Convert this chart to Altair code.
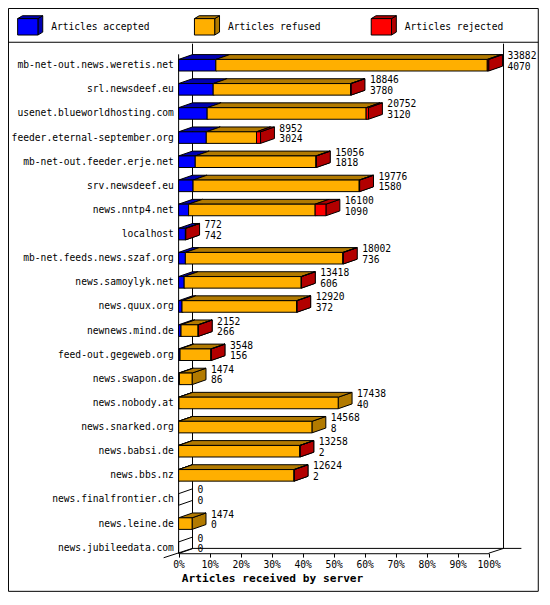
import altair as alt
import pandas as pd

# ---------------- data ----------------
hosts = [
    "mb-net-out.news.weretis.net", "srl.newsdeef.eu", "usenet.blueworldhosting.com",
    "feeder.eternal-september.org", "mb-net-out.feeder.erje.net", "srv.newsdeef.eu",
    "news.nntp4.net", "localhost", "mb-net.feeds.news.szaf.org", "news.samoylyk.net",
    "news.quux.org", "newnews.mind.de", "feed-out.gegeweb.org", "news.swapon.de",
    "news.nobody.at", "news.snarked.org", "news.babsi.de", "news.bbs.nz",
    "news.finalfrontier.ch", "news.leine.de", "news.jubileedata.com",
]
offered = [33882, 18846, 20752, 8952, 15056, 19776, 16100, 772, 18002, 13418,
           12920, 2152, 3548, 1474, 17438, 14568, 13258, 12624, 0, 1474, 0]
accepted = [4070, 3780, 3120, 3024, 1818, 1580, 1090, 742, 736, 606,
            372, 266, 156, 86, 40, 8, 2, 2, 0, 0, 0]
rejected = [150, 50, 260, 440, 50, 40, 1180, 30, 60, 20,
            20, 20, 15, 0, 0, 0, 10, 10, 0, 0, 0]

series = ["Articles accepted", "Articles refused", "Articles rejected"]
front_cols = ["#0000ff", "#ffaf00", "#ff0000"]
dark_cols = ["#0000b2", "#b27a00", "#b20000"]
tick_values = [0, 10, 20, 30, 40, 50, 60, 70, 80, 90, 100]

# ---------------- layout ----------------
S = 0.965
def P(v):
    return round(v * S, 2)

MONO = "DejaVu Sans Mono"
MAXV = max(offered)
HALF = 0.24   # half bar height in row units
DY = 0.2      # depth (vertical) in row units
DX = 4.48     # depth (horizontal) in percent units

XS = alt.Scale(domain=[0, 100], range=[P(176.8), P(498.1)], nice=False, zero=False)
YS = alt.Scale(domain=[0, 20], range=[P(59.3), P(559.3)], nice=False, zero=False)
ID = alt.Scale(domain=[0, 1000], range=[0, 1000], nice=False, zero=False)

fronts, tops = [], []
sides = [[], [], []]
zeros = []
labels = []
for i, h in enumerate(hosts):
    tot = offered[i]
    vals = [accepted[i], tot - accepted[i] - rejected[i], rejected[i]]
    start = 0.0
    for k, v in enumerate(vals):
        if v <= 0:
            continue
        x0 = start / MAXV * 100
        x1 = (start + v) / MAXV * 100
        start += v
        pid = f"{i}-{k}"
        fronts.append(dict(x0=x0, x1=x1, y0=i - HALF, y1=i + HALF, col=front_cols[k]))
        tops.append(dict(pid=pid, yy=i - HALF, xa=x0, xb=x1, col=dark_cols[k]))
        tops.append(dict(pid=pid, yy=i - HALF - DY, xa=x0 + DX, xb=x1 + DX, col=dark_cols[k]))
        sides[k].append(dict(pid=pid, xx=x1, ya=i - HALF, yb=i + HALF, col=dark_cols[k]))
        sides[k].append(dict(pid=pid, xx=x1 + DX, ya=i - HALF - DY, yb=i + HALF - DY, col=dark_cols[k]))
    if tot == 0:
        zeros.append(dict(pid=str(i), xx=0.0, ya=i - HALF, yb=i + HALF))
        zeros.append(dict(pid=str(i), xx=DX, ya=i - HALF - DY, yb=i + HALF - DY))
    labels.append(dict(row=i, host=h, tp=tot / MAXV * 100, t1=str(tot), t2=str(accepted[i])))

fronts_df = pd.DataFrame(fronts)
tops_df = pd.DataFrame(tops)
zeros_df = pd.DataFrame(zeros)
labels_df = pd.DataFrame(labels)

# decoration lines (pixel layout)
lines_df = pd.DataFrame([
    dict(x=P(0), y=P(35.5), x2=P(549.5), y2=P(35.5)),
    dict(x=P(191.2), y=P(37), x2=P(191.2), y2=P(560)),
    dict(x=P(513.5), y=P(37), x2=P(513.5), y2=P(560)),
    dict(x=P(176.8), y=P(48), x2=P(176.8), y2=P(565)),
    dict(x=P(191.2), y=P(560), x2=P(532), y2=P(560)),
    dict(x=P(498.1), y=P(565), x2=P(513.5), y2=P(560)),
    dict(x=P(161.3), y=P(569.7), x2=P(191.2), y2=P(560)),
])
border_df = pd.DataFrame([dict(x=P(0.5), y=P(0.5), x2=P(549.5), y2=P(604.5))])

# legend cubes (pixel layout)
lg_front, lg_top, lg_side, lg_text = [], [], [], []
for k, name in enumerate(series):
    x0 = 10 + 183.2 * k
    x1 = x0 + 21
    lg_front.append(dict(x=P(x0), x2=P(x1), y=P(11), y2=P(28), col=front_cols[k]))
    lg_top.append(dict(pid=k, yy=P(11), xa=P(x0), xb=P(x1), col=dark_cols[k]))
    lg_top.append(dict(pid=k, yy=P(8), xa=P(x0 + 5), xb=P(x1 + 5), col=dark_cols[k]))
    lg_side.append(dict(pid=k, xx=P(x1), ya=P(11), yb=P(28), col=dark_cols[k]))
    lg_side.append(dict(pid=k, xx=P(x1 + 5), ya=P(8), yb=P(25), col=dark_cols[k]))
    lg_text.append(dict(x=P(x0 + 34.7), y=P(20), name=name))

# ---------------- layers ----------------
deco = alt.Chart(lines_df).mark_rule(color="black", strokeWidth=1).encode(
    x=alt.X("x:Q", scale=ID, axis=None), y=alt.Y("y:Q", scale=ID, axis=None),
    x2="x2:Q", y2="y2:Q")

zero_layer = alt.Chart(zeros_df).mark_area(
    orient="vertical", fillOpacity=0, stroke="black", strokeWidth=1).encode(
    x=alt.X("xx:Q", scale=XS, axis=None),
    y=alt.Y("ya:Q", scale=YS, axis=None, stack=False), y2="yb:Q",
    detail="pid:N")

side_layers = []
for k in range(3):
    sdf = pd.DataFrame(sides[k])
    side_layers.append(alt.Chart(sdf).mark_area(
        orient="vertical", stroke="black", strokeWidth=1, opacity=1).encode(
        x=alt.X("xx:Q", scale=XS, axis=None),
        y=alt.Y("ya:Q", scale=YS, axis=None, stack=False), y2="yb:Q",
        detail="pid:N", fill=alt.Fill("col:N", scale=None)))

top_layer = alt.Chart(tops_df).mark_area(
    orient="horizontal", stroke="black", strokeWidth=1, opacity=1).encode(
    y=alt.Y("yy:Q", scale=YS, axis=None),
    x=alt.X("xa:Q", scale=XS, axis=None, stack=False), x2="xb:Q",
    detail="pid:N", fill=alt.Fill("col:N", scale=None))

front_layer = alt.Chart(fronts_df).mark_rect(stroke="black", strokeWidth=1).encode(
    x=alt.X("x0:Q", scale=XS, axis=alt.Axis(
        values=tick_values, labelExpr="datum.value + '%'", grid=False,
        tickSize=P(4), tickColor="black", tickWidth=1,
        domainColor="black", domainWidth=1,
        labelFont=MONO, labelFontSize=P(10), labelColor="black", labelPadding=2,
        labelFlush=False, labelOverlap=False,
        title="Articles received by server", titleFont=MONO, titleFontSize=P(11.6),
        titleFontWeight="bold", titleColor="black", titleX=P(273.6), titleY=P(26.7),
        titleBaseline="middle", titleAlign="center")),
    x2="x1:Q",
    y=alt.Y("y0:Q", scale=YS, axis=None), y2="y1:Q",
    fill=alt.Fill("col:N", scale=None))

host_text = alt.Chart(labels_df).mark_text(
    align="right", baseline="middle", font=MONO, fontSize=P(10), color="black").encode(
    x=alt.value(P(171.9)), y=alt.Y("row:Q", scale=YS, axis=None), text="host:N")

val1 = alt.Chart(labels_df).mark_text(
    align="left", baseline="middle", font=MONO, fontSize=P(10), color="black",
    dx=P(19.5), dy=-P(9.3)).encode(
    x=alt.X("tp:Q", scale=XS, axis=None), y=alt.Y("row:Q", scale=YS, axis=None), text="t1:N")

val2 = alt.Chart(labels_df).mark_text(
    align="left", baseline="middle", font=MONO, fontSize=P(10), color="black",
    dx=P(19.5), dy=P(1.7)).encode(
    x=alt.X("tp:Q", scale=XS, axis=None), y=alt.Y("row:Q", scale=YS, axis=None), text="t2:N")

lg_side_layer = alt.Chart(pd.DataFrame(lg_side)).mark_area(
    orient="vertical", stroke="black", strokeWidth=1, opacity=1).encode(
    x=alt.X("xx:Q", scale=ID, axis=None),
    y=alt.Y("ya:Q", scale=ID, axis=None, stack=False), y2="yb:Q",
    detail="pid:N", fill=alt.Fill("col:N", scale=None))

lg_top_layer = alt.Chart(pd.DataFrame(lg_top)).mark_area(
    orient="horizontal", stroke="black", strokeWidth=1, opacity=1).encode(
    y=alt.Y("yy:Q", scale=ID, axis=None),
    x=alt.X("xa:Q", scale=ID, axis=None, stack=False), x2="xb:Q",
    detail="pid:N", fill=alt.Fill("col:N", scale=None))

lg_front_layer = alt.Chart(pd.DataFrame(lg_front)).mark_rect(stroke="black", strokeWidth=1).encode(
    x=alt.X("x:Q", scale=ID, axis=None), x2="x2:Q",
    y=alt.Y("y:Q", scale=ID, axis=None), y2="y2:Q",
    fill=alt.Fill("col:N", scale=None))

lg_text_layer = alt.Chart(pd.DataFrame(lg_text)).mark_text(
    align="left", baseline="middle", font=MONO, fontSize=P(10), color="black").encode(
    x=alt.X("x:Q", scale=ID, axis=None), y=alt.Y("y:Q", scale=ID, axis=None), text="name:N")

border = alt.Chart(border_df).mark_rect(fillOpacity=0, stroke="black", strokeWidth=1).encode(
    x=alt.X("x:Q", scale=ID, axis=None), x2="x2:Q",
    y=alt.Y("y:Q", scale=ID, axis=None), y2="y2:Q")

chart = alt.layer(
    deco, zero_layer, *side_layers, top_layer, front_layer,
    host_text, val1, val2,
    lg_side_layer, lg_top_layer, lg_front_layer, lg_text_layer, border,
).resolve_scale(x="independent", y="independent").properties(
    width=P(550), height=P(565),
    padding={"left": 0, "top": 0, "right": 0, "bottom": round(P(605) - P(565), 2)},
    autosize="none", background="white",
).configure_view(strokeWidth=0)

chart.save("out.html", embed_options={"renderer": "svg", "actions": False})
